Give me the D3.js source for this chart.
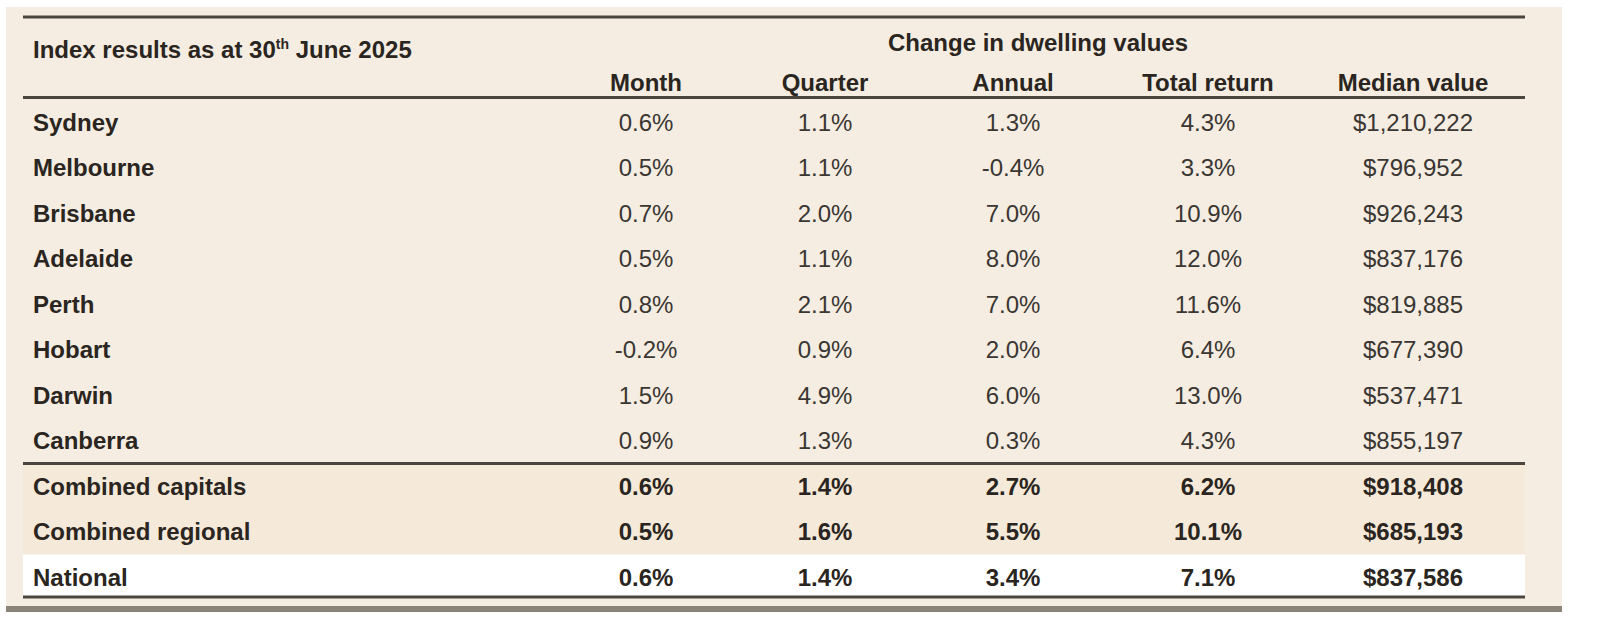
<!DOCTYPE html>
<html>
<head>
<meta charset="utf-8">
<script src="https://cdn.jsdelivr.net/npm/d3@7"></script>
<style>
body { margin: 0; background: #fff; }
text { font-family: "Liberation Sans", Arial, sans-serif; }
</style>
</head>
<body>
<script>
const regions = ['Sydney', 'Melbourne', 'Brisbane', 'Adelaide', 'Perth', 'Hobart', 'Darwin', 'Canberra',
    'Combined capitals', 'Combined regional', 'National']
const columns = ['Month', 'Quarter', 'Annual', 'Total return', 'Median value']
const month = ['0.6%', '0.5%', '0.7%', '0.5%', '0.8%', '-0.2%', '1.5%', '0.9%', '0.6%', '0.5%', '0.6%']
const quarter = ['1.1%', '1.1%', '2.0%', '1.1%', '2.1%', '0.9%', '4.9%', '1.3%', '1.4%', '1.6%', '1.4%']
const annual = ['1.3%', '-0.4%', '7.0%', '8.0%', '7.0%', '2.0%', '6.0%', '0.3%', '2.7%', '5.5%', '3.4%']
const totalReturn = ['4.3%', '3.3%', '10.9%', '12.0%', '11.6%', '6.4%', '13.0%', '4.3%', '6.2%', '10.1%', '7.1%']
const median = ['$1,210,222', '$796,952', '$926,243', '$837,176', '$819,885', '$677,390', '$537,471', '$855,197',
    '$918,408', '$685,193', '$837,586']
const series = [month, quarter, annual, totalReturn, median]
const boldFrom = 8

const width = 1614
const height = 642
const fs = 24
const svg = d3.select('body').append('svg').attr('width', width).attr('height', height)

// panel
svg.append('rect').attr('x', 6).attr('y', 7).attr('width', 1556).attr('height', 601).attr('fill', '#f5ede2')
svg.append('rect').attr('x', 6).attr('y', 606).attr('width', 1556).attr('height', 6).attr('fill', '#8a8478')

const yScale = d3.scaleBand().domain(regions).range([99.5, 600]).paddingInner(0)
const xScale = d3.scaleOrdinal().domain(columns).range([646, 825, 1013, 1208, 1413])

// shaded rows
svg.append('rect').attr('x', 23).attr('y', yScale('Combined capitals'))
    .attr('width', 1502).attr('height', yScale.bandwidth() * 2).attr('fill', '#f5e9d9')
svg.append('rect').attr('x', 23).attr('y', yScale('National'))
    .attr('width', 1502).attr('height', yScale.bandwidth() - 4).attr('fill', '#ffffff')

// rules
const rules = [17, 97.5, yScale('Combined capitals'), 597]
svg.selectAll('.rule').data(rules).enter().append('rect')
    .attr('x', 23).attr('width', 1502).attr('y', d => d - 1.5).attr('height', 3).attr('fill', '#4a463f')

// header
const title = svg.append('text').attr('x', 33).attr('y', 58).attr('font-size', fs).attr('font-weight', 'bold').attr('fill', '#2a2520')
title.append('tspan').text('Index results as at 30')
title.append('tspan').text('th').attr('font-size', 14).attr('dy', -9)
title.append('tspan').text(' June 2025').attr('dy', 9)

svg.append('text').attr('x', 1038).attr('y', 51).attr('text-anchor', 'middle')
    .attr('font-size', fs).attr('font-weight', 'bold').attr('fill', '#2a2520').text('Change in dwelling values')

svg.selectAll('.colhead').data(columns).enter().append('text')
    .attr('x', d => xScale(d)).attr('y', 91).attr('text-anchor', 'middle')
    .attr('font-size', fs).attr('font-weight', 'bold').attr('fill', '#2a2520').text(d => d)

// rows
const rowG = svg.selectAll('.row').data(regions).enter().append('g')
    .attr('transform', d => 'translate(0,' + (yScale(d) + yScale.bandwidth() / 2 + 8.5) + ')')
rowG.append('text').attr('x', 33).attr('font-size', fs).attr('font-weight', 'bold')
    .attr('fill', '#2a2520').text(d => d)
columns.forEach((c, j) => {
    rowG.append('text').attr('x', xScale(c)).attr('text-anchor', 'middle').attr('font-size', fs)
        .attr('font-weight', (d, i) => i >= boldFrom ? 'bold' : 'normal')
        .attr('fill', (d, i) => i >= boldFrom ? '#2a2520' : '#3a3632')
        .text((d, i) => series[j][i])
})
</script>
</body>
</html>
